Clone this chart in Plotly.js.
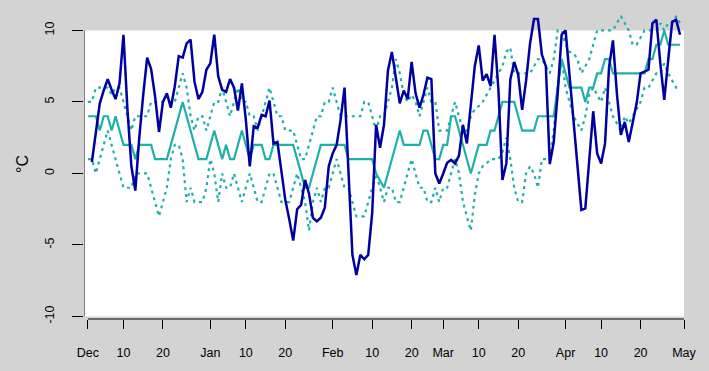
<!DOCTYPE html>
<html><head><meta charset="utf-8">
<script src="https://cdn.plot.ly/plotly-3.0.1.min.js"></script>
<style>html,body{margin:0;padding:0;background:#d3d3d3;}</style>
</head><body>
<div id="chart" style="width:709px;height:371px;"></div>
<script>
// day index: 1 = Dec 1, 152 = May 1
const tickVals = [1,10,20,32,41,51,63,73,83,91,100,110,122,131,141,152];
const tickText = ['Dec','10','20','Jan','10','20','Feb','10','20','Mar','10','20','Apr','10','20','May'];
const yTicks = [-10,-5,0,5,10];

// observed daily temperature, starting at day 2
const obsStart = 2;
const obsTemp = [0.8,3.0,4.9,5.8,6.6,5.85,5.2,6.3,9.7,4.5,0.5,-1.2,2.5,5.5,8.1,7.3,5.4,2.9,5.0,
 5.6,4.6,6.1,8.2,8.1,9.1,9.35,6.4,5.2,5.7,7.25,7.7,9.7,6.8,5.85,5.7,6.6,6.0,4.4,6.3,
 3.75,0.5,3.3,3.2,4.1,4.0,5.1,2.1,2.2,0.0,-1.85,-3.2,-4.7,-2.5,-2.2,-0.45,-1.4,-3.1,-3.35,-3.1,
 -2.4,0.5,1.4,2.0,3.75,6.0,0.2,-5.7,-7.1,-5.7,-6.0,-5.7,-2.8,3.4,1.8,3.4,7.2,8.5,6.7,4.9,
 5.8,5.2,7.8,5.6,4.6,5.5,6.7,6.6,0.0,-0.7,0.0,0.75,0.95,0.7,1.25,3.4,2.1,5.0,7.5,8.95,
 6.5,6.95,6.1,9.7,5.8,-0.45,0.7,6.55,7.8,6.9,4.45,6.5,9.1,10.8,10.8,8.3,7.5,0.65,2.2,5.6,
 9.7,10.0,6.8,3.3,0.25,-2.55,-2.45,1.0,4.35,1.4,0.7,2.1,7.4,9.3,5.6,2.7,3.6,2.2,3.5,4.9,
 7.0,7.15,7.25,10.5,10.75,7.7,5.15,7.95,10.6,10.75,9.7];

// climatology, starting at day 1
const climStart = 1;
const climMedian = [4,4,4,3,4,4,3,4,3,2, 2,2,1,2,2,2,2,1,1,1, 1,2,3,4,5,4,3,2,1,1,
 1,2,3,2,1,2,1,1,2,3, 2,1,2,2,2,1,1,2,2,2, 2,2,2,1,0,-1,-1,0,1,2,
 2,2,2,2,2,2,1,1,1,1, 1,1,1,0,-0.5,-1,0,1,2,3, 2,2,2,2,2,3,3,2,1,1,
 2,2,4,4,3,2,1,0,1,2, 2,2,3,3,4,5,5,5,5,4, 3,3,3,3,4,4,4,4,4,6,
 8,7,6,6,6,6,5,6,6,7, 7,8,8,7,7,7,7,7,7,7, 7,7,8,8,9,9,10,9,9,9,9];
const climUpper = [5,5,6,6,6,6,5.5,6,6,5, 4,3,4,4,4,4,5,5,5,5, 5,5,5,6,7,6,4,3,4,4,
 3,4,5,5,6,5,4,5,6,5, 5,4,4,3,4,5,6,5,4,4, 3,3,3,2,1,1,2,3,4,4,
 5,5,6,5,4,4,4,4,4,4, 5,5,4,3,4,4,5,6,8,7, 5.5,5,5.5,5,4,5,6,5,5,3,
 3,3,4,5,4,3,3,4,4.5,4.7, 5,5.5,6,6.5,7,7.5,8.5,8.8,7,7, 7,7,7,7.5,8,8,7.5,7,8,10,
 10,9,8.5,8.4,8,7,7.5,8,9,10, 10,10,10,10,10.5,11,10.5,10,9,9, 9.5,10,10,10,10,10.5,10,10.5,10.5,11,10.5];
const climLower = [1,1,0,1,2,3,2,1,0,-1, -1,-1,0,0,0,0,-1,-2,-3,-2, -1,1,2,2,1,-2,-1,-2,-2,-2,
 -1,1,0,-2,0,-1,-1,0,-1,-2, -1,0,-1,-2,-2,-1,0,0,-1,-2, -2,-2,-1,0,-1,-2,-4,-2,-1,-2,
 -1,-1,0,1,0,-1,-1,-2,-3,-3, -3,-2,-1,0,-1,-2,-1,-1,-2,-2, -1,0,1,0,-1,-1,-2,-2,-1,-2,
 -1,-1,0,1,0,-2,-3,-4,-1.5,0, 0.5,0.7,1,1,1,1.5,2.5,1,-1,-2, -2,0,0.5,0,-1,1,1,1,3,6,
 8,6,5,4,3.5,3,4,5.5,6,5.5, 5,6,5,4,3.5,3,4,3.5,4,4.5, 5,6,6,6.5,7,7,7.7,7,6.5,6,6];

const days = (start, arr) => arr.map((_, i) => start + i);

const teal = '#1fb0aa';
const navy = '#0000a0';
const traces = [
  {x: days(climStart, climUpper), y: climUpper, mode:'lines', line:{color:teal, width:2.2, dash:'3px,4px'}, hoverinfo:'skip'},
  {x: days(climStart, climLower), y: climLower, mode:'lines', line:{color:teal, width:2.2, dash:'3px,4px'}, hoverinfo:'skip'},
  {x: days(climStart, climMedian), y: climMedian, mode:'lines', line:{color:teal, width:2.2}, hoverinfo:'skip'},
  {x: days(obsStart, obsTemp), y: obsTemp, mode:'lines', line:{color:navy, width:2.5}, hoverinfo:'skip'}
];

const layout = {
  width:709, height:371,
  paper_bgcolor:'#d3d3d3', plot_bgcolor:'rgba(0,0,0,0)',
  showlegend:false,
  margin:{l:84.35, r:709-684.3, t:9.3, b:371-319.3, pad:0},
  font:{family:'Liberation Sans, Arial, sans-serif', size:12.5, color:'#000'},
  xaxis:{range:[0,152], tickvals:tickVals, ticktext:tickText, ticks:'outside', ticklen:9, tickwidth:1,
    tickcolor:'#000', showgrid:false, zeroline:false, showline:false, ticklabelstandoff:13, fixedrange:true},
  yaxis:{range:[-10.18,11.5], tickvals:yTicks, ticktext:yTicks.map(String), ticks:'outside', ticklen:11, tickwidth:1,
    tickcolor:'#000', tickangle:-90, showgrid:false, zeroline:false, showline:false, ticklabelstandoff:13,
    title:{text:'°C', font:{size:16}, standoff:10}, fixedrange:true},
  shapes:[
    {type:'rect', xref:'x', yref:'y', x0:0, x1:152, y0:-10, y1:10, fillcolor:'#ffffff', line:{width:0}, layer:'below'},
    {type:'line', xref:'x', yref:'y', x0:0, x1:0, y0:-10, y1:10, line:{color:'#000', width:1}},
    {type:'line', xref:'x', yref:'paper', x0:1, x1:152, y0:0, y1:0, line:{color:'#000', width:1}}
  ]
};
Plotly.newPlot('chart', traces, layout, {displayModeBar:false, staticPlot:true});
</script>
</body></html>
